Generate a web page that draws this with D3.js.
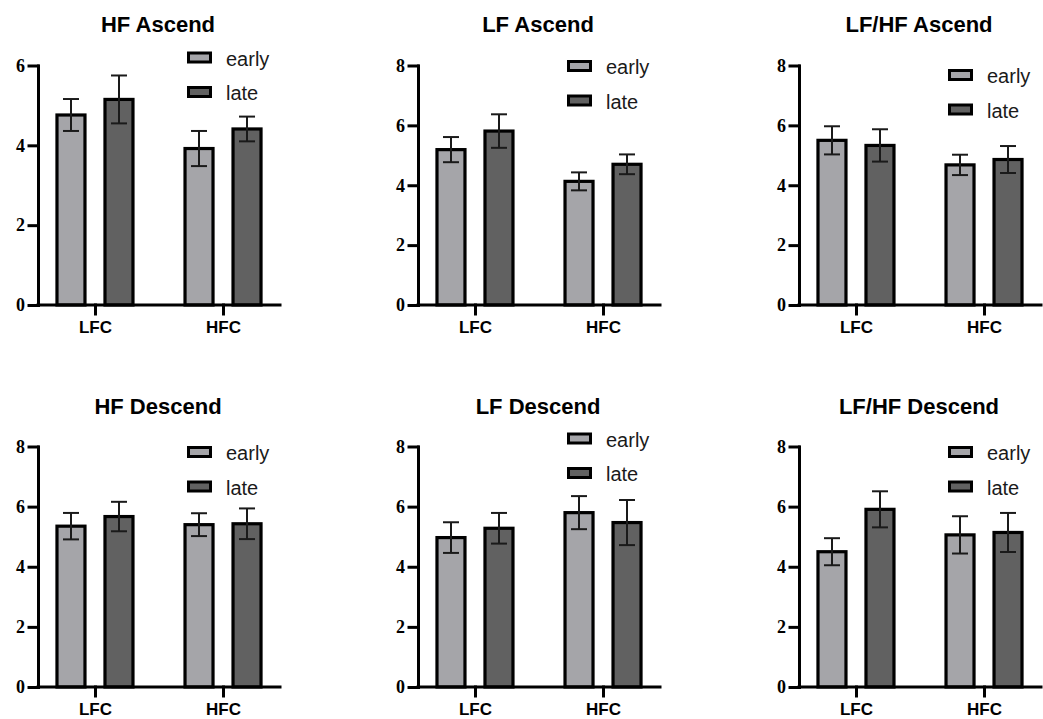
<!DOCTYPE html>
<html>
<head>
<meta charset="utf-8">
<script src="https://cdn.jsdelivr.net/npm/d3@7"></script>
<style>
  body { margin: 0; background: #fff; }
  svg { display: block; }
</style>
</head>
<body>
<div id="chart"></div>
<script>
// categories and series
var categories = ["LFC", "HFC"];
var series = ["early", "late"];

// one entry per panel, row by row
var titles = ["HF Ascend", "LF Ascend", "LF/HF Ascend", "HF Descend", "LF Descend", "LF/HF Descend"];
var yMax = [6, 8, 8, 8, 8, 8];

// means [LFC, HFC] and error bars
var earlyMeans = [[4.76, 3.92], [5.19, 4.13], [5.50, 4.68], [5.35, 5.40], [4.97, 5.80], [4.50, 5.06]];
var earlyErrors = [[0.40, 0.44], [0.42, 0.30], [0.47, 0.34], [0.44, 0.38], [0.51, 0.55], [0.45, 0.62]];
var lateMeans = [[5.15, 4.41], [5.81, 4.70], [5.33, 4.86], [5.67, 5.43], [5.28, 5.47], [5.91, 5.14]];
var lateErrors = [[0.60, 0.31], [0.56, 0.33], [0.54, 0.45], [0.49, 0.51], [0.51, 0.75], [0.60, 0.65]];

var width = 1043, height = 719;
var colors = { early: "#a5a5a9", late: "#616161" };

// layout of the grid
var colX = [38, 418, 799];
var rowTop = [65.5, 446.5], rowBottom = [305, 687], titleY = [32, 414];
var legendDy = [0, 8.5, 17.5, 13.5, 0, 13.5];

var svg = d3.select("#chart").append("svg")
    .attr("width", width)
    .attr("height", height);

titles.forEach(function(title, i) {
    var row = Math.floor(i / 3), col = i % 3;
    var ox = colX[col];
    var g = svg.append("g");

    var x = d3.scalePoint().domain(categories).range([ox, ox + 242]).padding(0.445);
    var xs = d3.scalePoint().domain(series).range([-24, 24]);
    var y = d3.scaleLinear().domain([0, yMax[i]]).range([rowBottom[row], rowTop[row]]);

    //Title
    g.append("text")
        .attr("x", ox + 120).attr("y", titleY[row])
        .attr("text-anchor", "middle")
        .style("font-family", "'Liberation Sans', Arial, sans-serif")
        .style("font-weight", "bold").style("font-size", "22px")
        .text(title);

    var bars = [];
    categories.forEach(function(c, k) {
        bars.push({ cat: c, s: "early", m: earlyMeans[i][k], e: earlyErrors[i][k] });
        bars.push({ cat: c, s: "late", m: lateMeans[i][k], e: lateErrors[i][k] });
    });

    g.selectAll(".bar").data(bars).enter().append("rect")
        .attr("x", function(d) { return x(d.cat) + xs(d.s) - 14; })
        .attr("width", 28)
        .attr("y", function(d) { return y(d.m); })
        .attr("height", function(d) { return y(0) - y(d.m); })
        .attr("fill", function(d) { return colors[d.s]; })
        .attr("stroke", "#000").attr("stroke-width", 3.2);

    //Error bars
    var err = g.selectAll(".err").data(bars).enter().append("g")
        .attr("stroke", "#1a1a1a").attr("stroke-width", 2);
    err.append("line")
        .attr("x1", function(d) { return x(d.cat) + xs(d.s); })
        .attr("x2", function(d) { return x(d.cat) + xs(d.s); })
        .attr("y1", function(d) { return y(d.m - d.e); })
        .attr("y2", function(d) { return y(d.m + d.e); });
    [-1, 1].forEach(function(sign) {
        err.append("line")
            .attr("x1", function(d) { return x(d.cat) + xs(d.s) - 8; })
            .attr("x2", function(d) { return x(d.cat) + xs(d.s) + 8; })
            .attr("y1", function(d) { return y(d.m + sign * d.e); })
            .attr("y2", function(d) { return y(d.m + sign * d.e); });
    });

    //Axes
    var yAxis = g.append("g").attr("transform", "translate(" + ox + ",0)")
        .call(d3.axisLeft(y).tickValues(d3.range(0, yMax[i] + 1, 2)).tickFormat(d3.format("d"))
            .tickSize(9).tickSizeOuter(0).tickPadding(4));
    var xAxis = g.append("g").attr("transform", "translate(0," + y(0) + ")")
        .call(d3.axisBottom(x).tickSize(9).tickSizeOuter(0).tickPadding(7));
    xAxis.select(".domain").attr("d", "M" + ox + ",0H" + (ox + 242));

    [yAxis, xAxis].forEach(function(a) {
        a.selectAll("path, line").attr("stroke", "#000").attr("stroke-width", 3)
            .attr("stroke-linecap", "square");
    });
    yAxis.selectAll("text")
        .style("font-family", "'Liberation Serif', 'Times New Roman', serif")
        .style("font-weight", "bold").style("font-size", "18px").attr("fill", "#000");
    xAxis.selectAll("text")
        .style("font-family", "'Liberation Sans', Arial, sans-serif")
        .style("font-weight", "bold").style("font-size", "17px").attr("fill", "#000");

    //Legend
    var leg = g.selectAll(".leg").data(series).enter().append("g")
        .attr("transform", function(d, k) {
            return "translate(" + (ox + 149) + "," + (rowTop[row] + legendDy[i] + k * 34.5) + ")";
        });
    leg.append("rect")
        .attr("x", 1.5).attr("y", -12.5).attr("width", 22).attr("height", 9)
        .attr("fill", function(d) { return colors[d]; })
        .attr("stroke", "#000").attr("stroke-width", 3);
    leg.append("text")
        .attr("x", 39).attr("y", 0)
        .style("font-family", "'Liberation Sans', Arial, sans-serif")
        .style("font-size", "20px").attr("fill", "#1a1a1a")
        .text(function(d) { return d; });
});
</script>
</body>
</html>
